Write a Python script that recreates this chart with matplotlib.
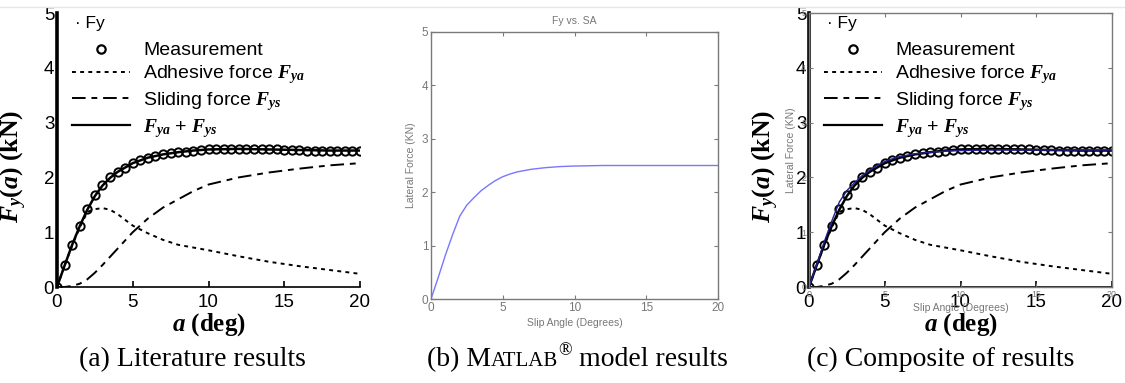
import numpy as np
import matplotlib.pyplot as plt
from matplotlib.lines import Line2D

plt.rcParams['mathtext.fontset'] = 'custom'
plt.rcParams['mathtext.it'] = 'Liberation Serif:italic:bold'
plt.rcParams['mathtext.rm'] = 'Liberation Serif:bold'
plt.rcParams['mathtext.bf'] = 'Liberation Serif:bold'

# ---- literature data (panel a / c)
meas_angle = np.arange(0, 20.01, 0.5)
meas_force = [0.00, 0.40, 0.77, 1.12, 1.42, 1.67, 1.86, 2.00, 2.10, 2.18,
              2.26, 2.31, 2.36, 2.39, 2.42, 2.44, 2.46, 2.47, 2.49, 2.50,
              2.51, 2.51, 2.52, 2.52, 2.52, 2.52, 2.52, 2.51, 2.51, 2.51,
              2.50, 2.50, 2.50, 2.49, 2.49, 2.49, 2.49, 2.49, 2.49, 2.49, 2.49]

fit_angle = [0, 0.5, 1, 1.5, 2, 2.5, 3, 3.5, 4, 5, 6, 7, 8, 9, 10, 12, 14, 16, 18, 20]
adhesive = [0, 0.39, 0.76, 1.08, 1.37, 1.42, 1.44, 1.41, 1.33, 1.12, 0.98, 0.86,
            0.77, 0.72, 0.67, 0.56, 0.46, 0.38, 0.31, 0.24]
sliding = [0, 0, 0.02, 0.06, 0.14, 0.26, 0.40, 0.55, 0.70, 1.00, 1.25, 1.45,
           1.60, 1.75, 1.87, 2.00, 2.09, 2.16, 2.22, 2.26]
total = [0, 0.39, 0.77, 1.11, 1.41, 1.66, 1.85, 1.99, 2.10, 2.26, 2.36, 2.42,
         2.46, 2.49, 2.51, 2.52, 2.51, 2.50, 2.49, 2.49]

# ---- MATLAB model data (panel b / c)
model_angle = [0, 0.5, 1, 1.5, 2, 2.5, 3, 3.5, 4, 4.5, 5, 5.5, 6, 7, 8, 9, 10, 12, 15, 20]
model_force = [0, 0.40, 0.82, 1.20, 1.55, 1.76, 1.90, 2.03, 2.13, 2.22, 2.29,
               2.34, 2.38, 2.43, 2.46, 2.48, 2.49, 2.50, 2.50, 2.50]

W, H = 1125, 383
fig = plt.figure(figsize=(W / 100, H / 100), dpi=100)


def box(l, t, r, b):
    return [l / W, 1 - b / H, (r - l) / W, (b - t) / H]


def literature(ax):
    ax.set_xlim(0, 20)
    ax.set_ylim(0, 5)
    ax.patch.set_alpha(0)
    ax.plot(fit_angle, adhesive, color='k', lw=1.4, ls=(0, (2, 2.2)))
    ax.plot(fit_angle, sliding, color='k', lw=1.4, ls=(0, (7, 3, 3, 3)))
    ax.plot(fit_angle, total, color='k', lw=1.8)
    ax.plot(meas_angle, meas_force, 'o', mfc='none', mec='k', mew=1.4, ms=6)
    for s in ['top', 'right']:
        ax.spines[s].set_visible(False)
    ax.spines['left'].set_linewidth(2.6)
    ax.spines['bottom'].set_linewidth(1.2)
    ax.set_xticks([0, 5, 10, 15, 20])
    ax.set_yticks([0, 1, 2, 3, 4, 5])
    ax.tick_params(axis='x', direction='in', length=4, width=1.2, pad=5, labelsize=13.5)
    ax.tick_params(axis='y', length=0, pad=2, labelsize=13.5)
    for t in ax.get_xticklabels() + ax.get_yticklabels():
        t.set_family('Liberation Sans')
    ax.set_ylabel(r'$F_y(a)$ (kN)', family='Liberation Serif', weight='bold',
                  fontsize=18.5)
    ax.yaxis.set_label_coords(-0.093, 0.44)
    ax.set_xlabel(r'$a$ (deg)', family='Liberation Serif', weight='bold',
                  fontsize=18, labelpad=0)
    handles = [Line2D([], [], ls='none', marker='o', mfc='none', mec='k', mew=1.6, ms=6),
               Line2D([], [], color='k', lw=1.4, ls=(0, (2, 2.2))),
               Line2D([], [], color='k', lw=1.4, ls=(0, (7, 3, 3, 3))),
               Line2D([], [], color='k', lw=1.6)]
    labels = ['Measurement', r'Adhesive force $F_{ya}$', r'Sliding force $F_{ys}$',
              r'$F_{ya}$ + $F_{ys}$']
    ax.legend(handles, labels, loc='upper left', bbox_to_anchor=(0.05, 0.895),
              frameon=False, handlelength=3.0, handletextpad=0.65, labelspacing=0.2,
              borderpad=0, borderaxespad=0,
              prop={'family': 'Liberation Sans', 'size': 14})
    ax.text(0.06, 0.963, '\u00b7 Fy', transform=ax.transAxes, ha='left', va='center',
            family='Liberation Sans', fontsize=12.5)


def matlab(ax, line_color, show_title, size):
    ax.set_xlim(0, 20)
    ax.set_ylim(0, 5)
    ax.patch.set_alpha(0)
    ax.plot(model_angle, model_force, color=line_color, lw=1.0)
    for s in ax.spines.values():
        s.set_color('#7a7a7a')
        s.set_linewidth(1.0)
    ax.set_xticks([0, 5, 10, 15, 20])
    ax.set_yticks([0, 1, 2, 3, 4, 5])
    ax.tick_params(direction='in', top=True, right=True, length=3, color='#7a7a7a',
                   labelcolor='#777777', labelsize=size, pad=2)
    for t in ax.get_xticklabels() + ax.get_yticklabels():
        t.set_family('Liberation Sans')
    ax.set_xlabel('Slip Angle (Degrees)', color='#777777', fontsize=7.5,
                  family='Liberation Sans', labelpad=3)
    ax.set_ylabel('Lateral Force (KN)', color='#777777', fontsize=7.5,
                  family='Liberation Sans', labelpad=4)
    if show_title:
        ax.set_title('Fy vs. SA', color='#777777', fontsize=7.5,
                     family='Liberation Sans', pad=6)


# (a) literature
ax_a = fig.add_axes(box(57, 13, 360, 287))
literature(ax_a)

# (b) MATLAB model
ax_b = fig.add_axes(box(431, 32, 718, 299))
matlab(ax_b, '#7777ff', True, 8.5)

# (c) composite
ax_cm = fig.add_axes(box(809, 13, 1112, 287))
matlab(ax_cm, '#1f1f8f', False, 6.5)
ax_cm.set_zorder(2)
ax_c = fig.add_axes(box(809, 13, 1112, 287))
literature(ax_c)
ax_c.set_zorder(1)

# faint scan line at the top
fig.add_artist(Line2D([0, 1], [1 - 7 / H, 1 - 7 / H], color='#e6e6e6', lw=1))

# captions
renderer = fig.canvas.get_renderer()


def caption(xc, yc, parts):
    texts = []
    for s, size, dy in parts:
        texts.append(fig.text(0, 0, s, family='Liberation Serif', fontsize=size,
                              ha='left', va='baseline'))
    widths = [t.get_window_extent(renderer).width for t in texts]
    x = xc - sum(widths) / 2
    for t, w, (s, size, dy) in zip(texts, widths, parts):
        t.set_position((x / W, 1 - (yc - dy) / H))
        x += w


caption(192, 366, [('(a) Literature results', 20, 0)])
caption(577, 366, [('(b) M', 20, 0), ('ATLAB', 15, 0), ('\u00ae', 13, 11),
                   (' model results', 20, 0)])
caption(941, 366, [('(c) Composite of results', 20, 0)])

fig.savefig('out.png', dpi=100)
